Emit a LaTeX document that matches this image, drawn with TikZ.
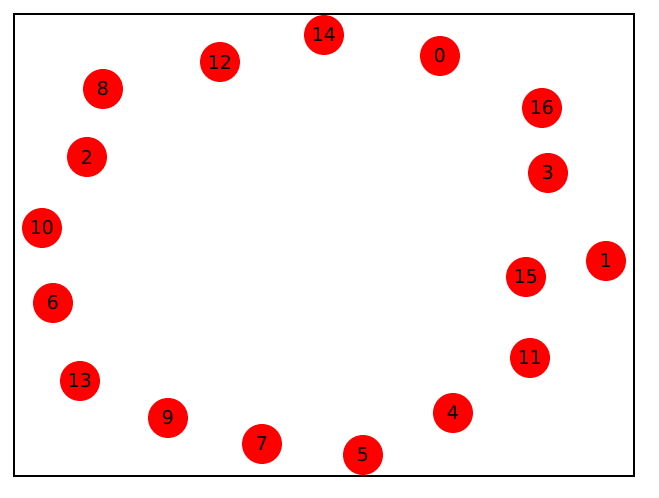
\documentclass[tikz,border=0pt]{standalone}
\usepackage{fontspec}
\setmainfont{DejaVu Sans}
\usepackage{tikz}

\begin{document}
\begin{tikzpicture}[
        every node/.style={circle, fill=red, minimum size=0.8cm, inner sep=0pt,
            font=\fontsize{10.8}{12}\selectfont},
        frame/.style={draw, line width=0.6pt}
        ]

        % Canvas
        \useasboundingbox (0,0) rectangle (13.18,9.96);
        \draw[frame] (0.28,0.44) rectangle (12.68,9.68);

        % Vertices
        \foreach \name/\x/\y in {14/6.48/9.26, 0/8.80/8.84, 12/4.40/8.72,
            8/2.06/8.18, 16/10.84/7.80, 2/1.74/6.82, 3/10.96/6.50,
            10/0.84/5.40, 1/12.12/4.74, 15/10.52/4.42, 6/1.06/3.90,
            11/10.60/2.80, 13/1.60/2.34, 4/9.06/1.70, 9/3.36/1.60,
            7/5.24/1.08, 5/7.26/0.86}
            \node (v\name) at (\x,\y) {\name};
    \end{tikzpicture}
\end{document}
